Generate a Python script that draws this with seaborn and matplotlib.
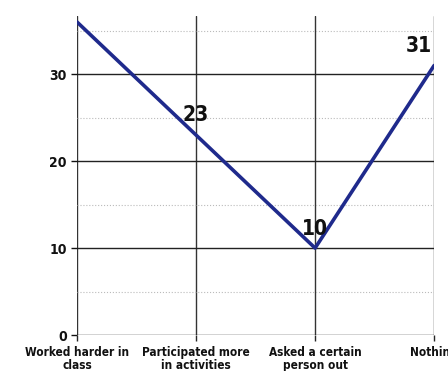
import matplotlib
matplotlib.use("Agg")
import matplotlib.pyplot as plt
import seaborn as sns
import pandas as pd
from matplotlib.ticker import MultipleLocator

categories = ["Worked harder in\nclass", "Participated more\nin activities",
              "Asked a certain\nperson out", "Nothing"]
values = [36, 23, 10, 31]
point_labels = ["", "23", "10", "31"]

sns.set_style("white")
plt.rcParams['font.family'] = ['DejaVu Sans']
plt.rcParams['font.weight'] = 'bold'
plt.rcParams['font.stretch'] = 'condensed'

df = pd.DataFrame({"pos": range(len(categories)), "value": values})

fig = plt.figure(figsize=(4.48, 3.71), dpi=100)
ax = fig.add_axes([0.172, 0.097, 0.797, 0.86])

sns.lineplot(data=df, x="pos", y="value", ax=ax, color="#1f2a8c", linewidth=2.6, zorder=5)

ax.set_xlim(0, len(categories) - 1)
ax.set_ylim(0, 36.7)
ax.yaxis.set_major_locator(MultipleLocator(10))
ax.yaxis.set_minor_locator(MultipleLocator(5))
ax.set_xticks(df["pos"])
ax.set_xticklabels(categories, fontsize=8.5, fontweight='bold', color='#111111',
                   linespacing=1.0)
ax.tick_params(axis='y', labelsize=10, colors='#111111', length=4, width=1, direction='out')
ax.tick_params(axis='x', length=4, width=1, direction='out', pad=4)
ax.tick_params(which='minor', length=0)
ax.tick_params(left=True, bottom=True)

ax.grid(True, which='major', axis='y', color='#222222', linewidth=1.0)
ax.grid(True, which='minor', axis='y', color='#bbbbbb', linewidth=0.8, linestyle=':')
ax.grid(True, which='major', axis='x', color='#333333', linewidth=1.0)
for s in ax.spines.values():
    s.set_visible(False)

ax.set_xlabel("")
ax.set_ylabel("")

offsets = [(0, 0), (0, 2.3), (0, 2.2), (-0.13, 2.2)]
for i, lab in enumerate(point_labels):
    if lab:
        ax.text(df["pos"][i] + offsets[i][0], values[i] + offsets[i][1], lab,
                ha='center', va='center', fontsize=15, fontweight='bold', color='#111111', zorder=6)

fig.savefig("out.png", dpi=100)
